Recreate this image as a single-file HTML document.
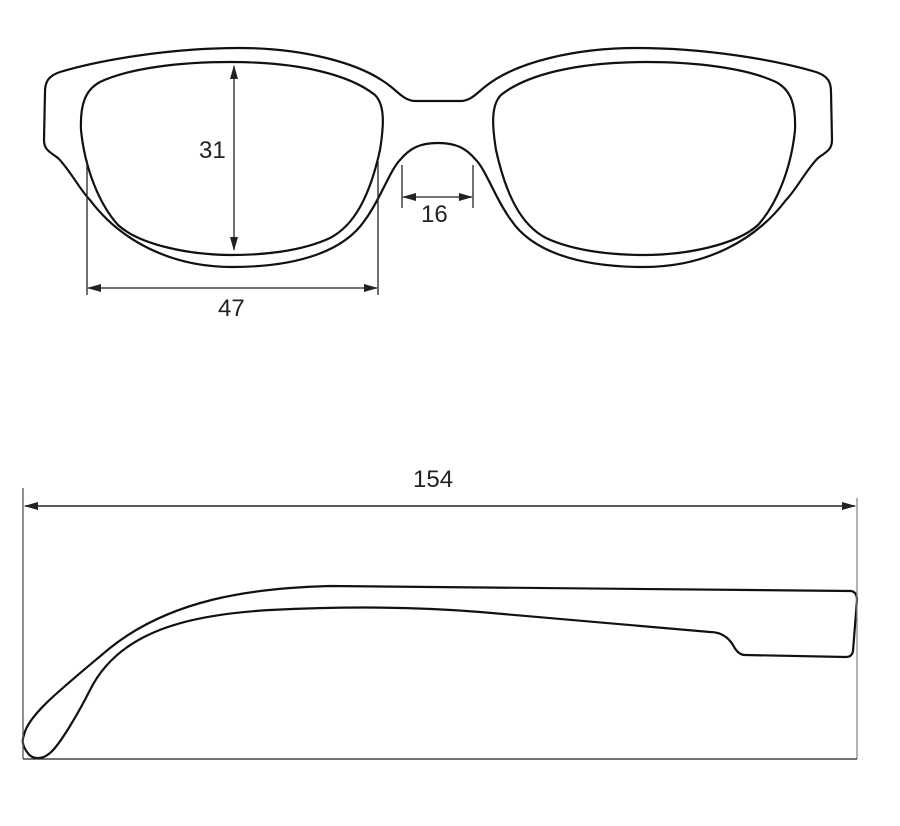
<!DOCTYPE html>
<html><head><style>body{margin:0;background:#fff}svg{display:block}text{font-family:"Liberation Sans",sans-serif;font-size:24px;fill:#222}</style></head>
<body>
<svg width="900" height="826" viewBox="0 0 900 826" xmlns="http://www.w3.org/2000/svg">
<defs>
<marker id="a" markerWidth="14" markerHeight="8" refX="13" refY="4" orient="auto-start-reverse" markerUnits="userSpaceOnUse"><path d="M0,0 L14,4 L0,8 Z" fill="#222"/></marker>
</defs>
<g fill="none" stroke="#111" stroke-width="2.2">
<g id="half">
<path d="M438,101 L415,101 C405,101 398,92 390,86 C360,62 300,48 240,48 C170,48 100,60 60,72 C48,76 45,82 45,92 L44,140 C44,150 50,152 58,158 C70,170 80,190 90,200 C120,240 170,267 232,267 C300,267 345,250 365,220 C380,200 390,170 400,160 C410,148 420,143 438,143"/>
<path d="M230,62 C300,62 350,75 375,95 C385,105 384,125 380,150 C370,195 355,225 330,238 C300,252 260,255 232,255 C190,255 140,245 118,225 C100,205 85,170 81,130 C80,105 85,90 100,82 C130,68 180,62 230,62 Z"/>
</g>
<use href="#half" transform="translate(876,0) scale(-1,1)"/>
<path d="M24,735 C28,715 60,690 110,648 C170,600 250,588 330,586 L851,591 Q857,592 857,600 L853,651 Q852,657 846,657 L745,655 Q738,655 733,645 Q725,632 710,632 L480,612 C420,607 350,606 270,610 C190,615 120,630 90,690 C80,710 60,745 50,753 C42,760 32,760 27,752 C22,745 22,740 24,735 Z"/>
</g>
<g stroke="#222" stroke-width="1.3" fill="none">
<line x1="234" y1="66" x2="234" y2="250" marker-start="url(#a)" marker-end="url(#a)"/>
<line x1="87" y1="160" x2="87" y2="295"/><line x1="378" y1="160" x2="378" y2="295"/>
<line x1="88" y1="288" x2="377" y2="288" marker-start="url(#a)" marker-end="url(#a)"/>
<line x1="402" y1="165" x2="402" y2="208"/><line x1="473" y1="165" x2="473" y2="208"/>
<line x1="403" y1="197" x2="472" y2="197" marker-start="url(#a)" marker-end="url(#a)"/>
<line x1="23" y1="488" x2="23" y2="759" stroke="#555"/><line x1="857" y1="498" x2="857" y2="759" stroke="#888"/>
<line x1="23" y1="759" x2="857" y2="759"/>
<line x1="25" y1="506" x2="855" y2="506" marker-start="url(#a)" marker-end="url(#a)" stroke-width="1.6"/>
</g>
<text x="199" y="158">31</text>
<text x="218" y="316">47</text>
<text x="421" y="222">16</text>
<text x="413" y="487">154</text>
</svg>
</body></html>
